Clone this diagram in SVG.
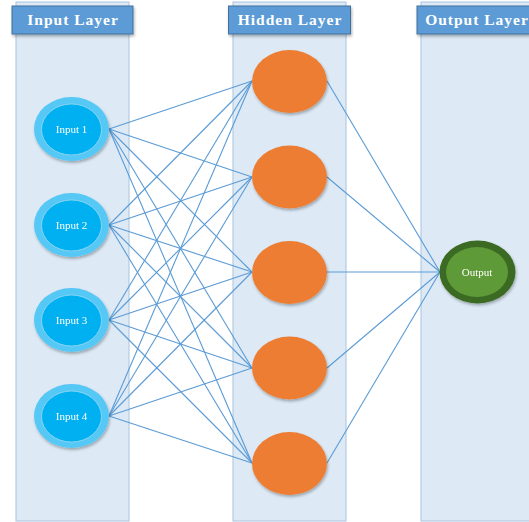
<svg xmlns="http://www.w3.org/2000/svg" width="529" height="522" viewBox="0 0 529 522">
<defs>
<filter id="sh" x="-20%" y="-20%" width="140%" height="140%">
<feGaussianBlur in="SourceAlpha" stdDeviation="1.5"/>
<feOffset dx="1" dy="2" result="b"/>
<feComponentTransfer><feFuncA type="linear" slope="0.3"/></feComponentTransfer>
<feMerge><feMergeNode/><feMergeNode in="SourceGraphic"/></feMerge>
</filter>
<style>
.col{fill:#ddeaf6;stroke:#a8c3e0;stroke-width:1}
.hdr{fill:#5b9bd5;stroke:#41719c;stroke-width:1}
.ht{font-family:"Liberation Serif",serif;font-weight:bold;font-size:15.5px;letter-spacing:1px;fill:#ffffff;text-anchor:middle}
.nt{font-family:"Liberation Serif",serif;font-size:11px;fill:#ffffff;text-anchor:middle}
.io{fill:#56c8f5}
.ii{fill:#00b0f0;stroke:#9ed8f0;stroke-width:0.8}
.hn{fill:#ed7d31}
.oo{fill:#3b6a22}
.oi{fill:#5f9a38}
.ln line{stroke:#5b9bd5;stroke-width:1.1}
</style>
</defs>
<g id="input-layer">
<rect class="col" x="16" y="2" width="113" height="519"/>
<rect class="hdr" x="12" y="6" width="121" height="28" filter="url(#sh)"/>
<text class="ht" x="73" y="25">Input Layer</text>
</g>
<g id="hidden-layer">
<rect class="col" x="233" y="2" width="113" height="519"/>
<rect class="hdr" x="228.5" y="6" width="122" height="28" filter="url(#sh)"/>
<text class="ht" x="290" y="25">Hidden Layer</text>
</g>
<g id="output-layer">
<rect class="col" x="421" y="2" width="120" height="519"/>
<rect class="hdr" x="417" y="6" width="125" height="28" filter="url(#sh)"/>
<text class="ht" x="477" y="25">Output Layer</text>
</g>
<g id="connectors" class="ln">
<line x1="109" y1="129" x2="252" y2="81"/><line x1="109" y1="129" x2="252" y2="177"/><line x1="109" y1="129" x2="252" y2="272"/><line x1="109" y1="129" x2="252" y2="368"/><line x1="109" y1="129" x2="252" y2="463"/>
<line x1="109" y1="225" x2="252" y2="81"/><line x1="109" y1="225" x2="252" y2="177"/><line x1="109" y1="225" x2="252" y2="272"/><line x1="109" y1="225" x2="252" y2="368"/><line x1="109" y1="225" x2="252" y2="463"/>
<line x1="109" y1="320" x2="252" y2="81"/><line x1="109" y1="320" x2="252" y2="177"/><line x1="109" y1="320" x2="252" y2="272"/><line x1="109" y1="320" x2="252" y2="368"/><line x1="109" y1="320" x2="252" y2="463"/>
<line x1="109" y1="416" x2="252" y2="81"/><line x1="109" y1="416" x2="252" y2="177"/><line x1="109" y1="416" x2="252" y2="272"/><line x1="109" y1="416" x2="252" y2="368"/><line x1="109" y1="416" x2="252" y2="463"/>
<line x1="327" y1="81" x2="440" y2="272"/><line x1="327" y1="177" x2="440" y2="272"/><line x1="327" y1="272" x2="440" y2="272"/><line x1="327" y1="368" x2="440" y2="272"/><line x1="327" y1="463" x2="440" y2="272"/>
</g>
<g id="input1" filter="url(#sh)"><ellipse class="io" cx="71.5" cy="129" rx="37.5" ry="32"/><ellipse class="ii" cx="71.5" cy="129.5" rx="30" ry="25.5"/><text class="nt" x="71.5" y="133">Input 1</text></g>
<g id="input2" filter="url(#sh)"><ellipse class="io" cx="71.5" cy="225" rx="37.5" ry="32"/><ellipse class="ii" cx="71.5" cy="225.5" rx="30" ry="25.5"/><text class="nt" x="71.5" y="229">Input 2</text></g>
<g id="input3" filter="url(#sh)"><ellipse class="io" cx="71.5" cy="320" rx="37.5" ry="32"/><ellipse class="ii" cx="71.5" cy="320.5" rx="30" ry="25.5"/><text class="nt" x="71.5" y="324">Input 3</text></g>
<g id="input4" filter="url(#sh)"><ellipse class="io" cx="71.5" cy="416" rx="37.5" ry="32"/><ellipse class="ii" cx="71.5" cy="416.5" rx="30" ry="25.5"/><text class="nt" x="71.5" y="420">Input 4</text></g>
<g id="hidden1" filter="url(#sh)"><ellipse class="hn" cx="289.5" cy="81.5" rx="37.5" ry="31.5"/></g>
<g id="hidden2" filter="url(#sh)"><ellipse class="hn" cx="289.5" cy="177" rx="37.5" ry="31.5"/></g>
<g id="hidden3" filter="url(#sh)"><ellipse class="hn" cx="289.5" cy="272.5" rx="37.5" ry="31.5"/></g>
<g id="hidden4" filter="url(#sh)"><ellipse class="hn" cx="289.5" cy="368" rx="37.5" ry="31.5"/></g>
<g id="hidden5" filter="url(#sh)"><ellipse class="hn" cx="289.5" cy="463.5" rx="37.5" ry="31.5"/></g>
<g id="output" filter="url(#sh)"><ellipse class="oo" cx="477.5" cy="272" rx="38" ry="31.5"/><ellipse class="oi" cx="477" cy="272" rx="31" ry="25"/><text class="nt" x="477" y="276">Output</text></g>
</svg>
